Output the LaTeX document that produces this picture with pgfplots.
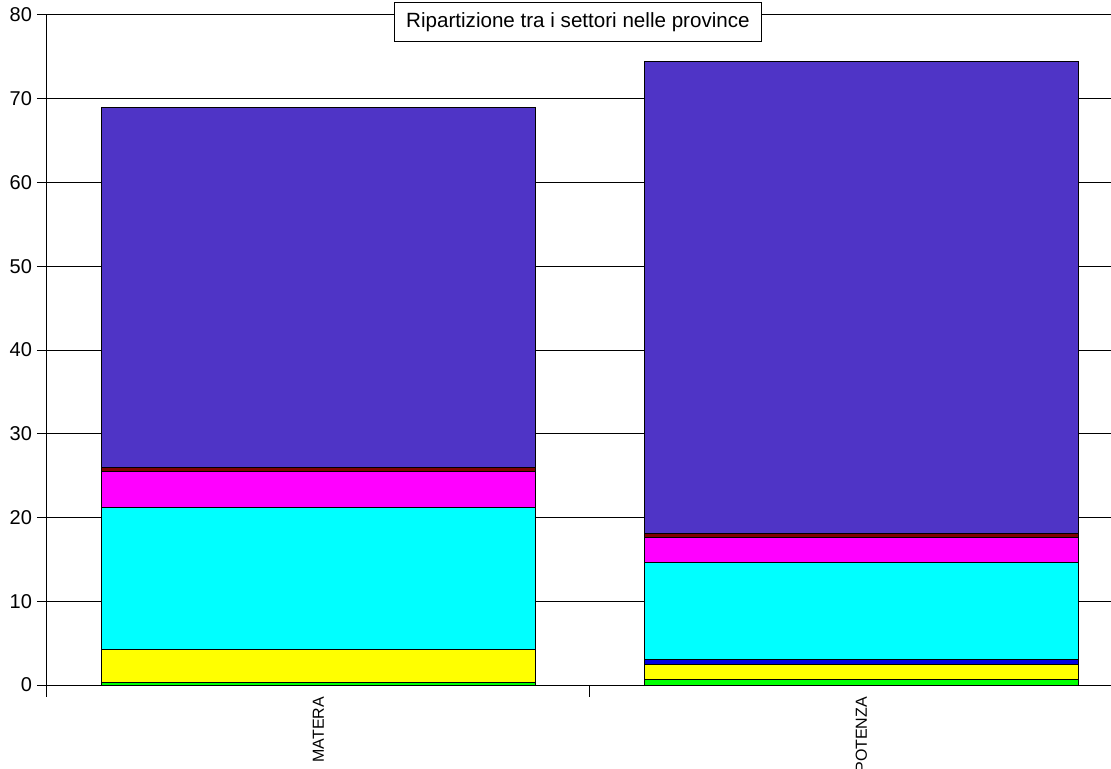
\documentclass[border=0pt]{standalone}
\usepackage{pgfplots}
\pgfplotsset{compat=1.18}
\usepackage{fontspec}
\setmainfont{Liberation Sans}
\definecolor{cGreen}{HTML}{00FF00}
\definecolor{cYellow}{HTML}{FFFF00}
\definecolor{cBlue}{HTML}{0000E0}
\definecolor{cCyan}{HTML}{00FFFF}
\definecolor{cMag}{HTML}{FF00FF}
\definecolor{cDRed}{HTML}{800000}
\definecolor{cPurple}{HTML}{4F34C6}
\begin{document}
\begin{tikzpicture}
\path[use as bounding box] (-23.5pt,-36pt) rectangle (532pt,348.5pt);
\clip (-23.5pt,-36pt) rectangle (532pt,348.5pt);
\begin{axis}[
  at={(0,0)}, anchor=south west,
  scale only axis, width=532pt, height=341pt,
  xmin=-0.5, xmax=1.46, ymin=-1.43, ymax=80,
  ybar stacked, bar width=0.8,
  separate axis lines,
  axis x line*=bottom, axis y line*=left,
  x axis line style={draw=none},
  y axis line style={-, line width=0.5pt, black},
  ytick={0,10,...,80},
  xtick={0,1}, xticklabels={MATERA,POTENZA},
  major x tick style={draw=none},
  major y tick style={line width=0.5pt, black},
  tick align=outside, major tick length=5pt,
  ymajorgrids, major grid style={black, line width=0.5pt},
  /pgf/number format/assume math mode=true,
  y tick label style={font=\fontsize{10}{12}\selectfont, xshift=1pt},
  x tick label style={yshift=8.5pt, rotate=90, anchor=east, font=\fontsize{8}{9}\selectfont},
  every axis plot/.append style={draw=black, line width=0.5pt},
  clip=false,
]
\addplot[fill=cGreen] coordinates {(0,0.3) (1,0.6)};
\addplot[fill=cYellow] coordinates {(0,3.95) (1,1.8)};
\addplot[fill=cBlue] coordinates {(0,0.05) (1,0.6)};
\addplot[fill=cCyan] coordinates {(0,16.85) (1,11.6)};
\addplot[fill=cMag] coordinates {(0,4.35) (1,3.05)};
\addplot[fill=cDRed] coordinates {(0,0.45) (1,0.5)};
\addplot[fill=cPurple] coordinates {(0,43.0) (1,56.35)};
\draw[black, line width=0.5pt] (axis cs:0.5,0) -- (axis cs:0.5,-1.43);
\node[draw=black, line width=0.5pt, fill=white, font=\fontsize{10.3}{12}\selectfont,
  minimum height=19.5pt, minimum width=183.5pt, inner sep=0pt]
  at (rel axis cs:0.499,0.989) {Ripartizione tra i settori nelle province};
\end{axis}
\end{tikzpicture}
\end{document}
